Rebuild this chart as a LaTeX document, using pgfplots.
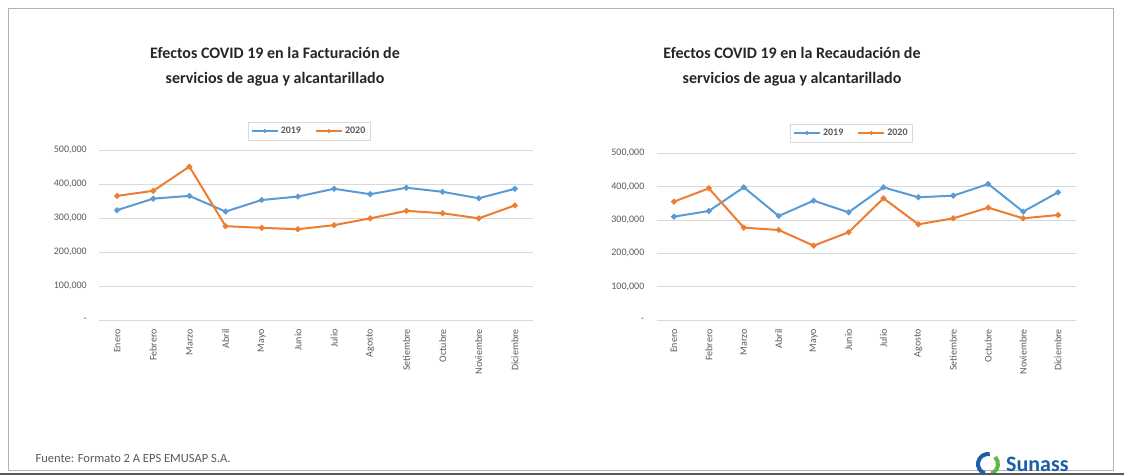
\documentclass[border=0pt]{standalone}
\usepackage{pgfplots}
\usepackage{pgfplotstable}
\pgfplotsset{compat=1.18}
\usepackage{fontspec}
\setmainfont{Carlito}
\definecolor{blu}{HTML}{5B9BD5}
\definecolor{ora}{HTML}{ED7D31}
\definecolor{gridc}{HTML}{D9D9D9}
\definecolor{txt}{HTML}{595959}
\definecolor{sunblue}{HTML}{1B5FA8}
\definecolor{sungreen}{HTML}{5DB844}

\pgfplotstableread{
m f19 f20 r19 r20
0 323000 365000 310000 355000
1 357000 380000 327000 395000
2 365000 451000 398000 277000
3 319000 276000 312000 270000
4 353000 271000 358000 223000
5 363000 267000 323000 263000
6 386000 279000 398000 365000
7 370000 299000 368000 287000
8 389000 321000 373000 305000
9 377000 314000 408000 337000
10 358000 299000 325000 305000
11 386000 337000 383000 315000
}\data

\pgfplotsset{emu/.style={
  scale only axis, anchor=south west,
  xmin=-0.5, xmax=11.5, ymin=0, ymax=500000,
  scaled y ticks=false,
  xtick={0,...,11},
  xticklabels={Enero,Febrero,Marzo,Abril,Mayo,Junio,Julio,Agosto,Setiembre,Octubre,Noviembre,Diciembre},
  ytick={0,100000,200000,300000,400000,500000},
  yticklabels={{-\hspace{8pt}},{100,000},{200,000},{300,000},{400,000},{500,000}},
  axis line style={draw=none},
  major tick length=0pt,
  ymajorgrids, grid style={gridc, line width=0.8pt},
  xticklabel style={rotate=90, anchor=east, inner sep=0pt, font=\fontsize{10}{11}\selectfont, text=txt},
  xticklabel shift=9pt,
  yticklabel style={anchor=east, inner sep=0pt, font=\fontsize{10}{11}\selectfont, text=txt},
  yticklabel shift=12pt,
  legend columns=2,
  legend style={draw=gridc, font=\fontsize{10}{11}\selectfont\bfseries, text=txt, anchor=center,
     /tikz/every even column/.append style={column sep=12pt}, inner sep=3pt},
  legend image code/.code={
     \draw[#1, mark=none] (0pt,0pt) -- (26pt,0pt);
     \draw[#1, line width=0.5pt] plot coordinates {(13pt,0pt)};},
}}

\begin{document}
\begin{tikzpicture}[x=1pt,y=1pt]
\path[use as bounding box] (0,0) rectangle (1124,475);
\draw[black!30, line width=0.8pt] (8,5) rectangle (1113,467);
\fill[black!65] (0,0) rectangle (1124,2.5);

\node[font=\bfseries\fontsize{16}{25}\selectfont, align=center, text=black!85] at (275,408)
  {Efectos COVID 19 en la Facturación de\\servicios de agua y alcantarillado};
\node[font=\bfseries\fontsize{16}{25}\selectfont, align=center, text=black!85] at (792,408)
  {Efectos COVID 19 en la Recaudación de\\servicios de agua y alcantarillado};

\begin{axis}[emu, at={(99pt,155pt)}, width=434pt, height=170pt,
  legend style={at={(0.484,1.112)}}]
\addplot[blu, line width=2pt, mark=*, mark size=1.8pt] table[x=m,y=f19] {\data};
\addplot[ora, line width=2pt, mark=*, mark size=1.8pt] table[x=m,y=f20] {\data};
\legend{2019,2020}
\end{axis}

\begin{axis}[emu, at={(656.5pt,155pt)}, width=419pt, height=166.7pt,
  legend style={at={(0.465,1.122)}}]
\addplot[blu, line width=2pt, mark=*, mark size=1.8pt] table[x=m,y=r19] {\data};
\addplot[ora, line width=2pt, mark=*, mark size=1.8pt] table[x=m,y=r20] {\data};
\legend{2019,2020}
\end{axis}

\node[anchor=west, font=\fontsize{12.5}{14}\selectfont, text=txt] at (32,17) {Fuente: Formato 2 A EPS EMUSAP S.A.};

\begin{scope}
\clip (900,2.5) rectangle (1124,60);
\node[anchor=base west, inner sep=0pt, font=\bfseries\fontsize{22}{22}\selectfont, text=sunblue] at (1006,4) {Sunass};
\draw[sunblue, line width=4pt] (988,11) ++(80:10) arc (80:250:10);
\draw[sungreen, line width=4pt] (988,11) ++(-70:10) arc (-70:45:10);
\end{scope}
\end{tikzpicture}
\end{document}
